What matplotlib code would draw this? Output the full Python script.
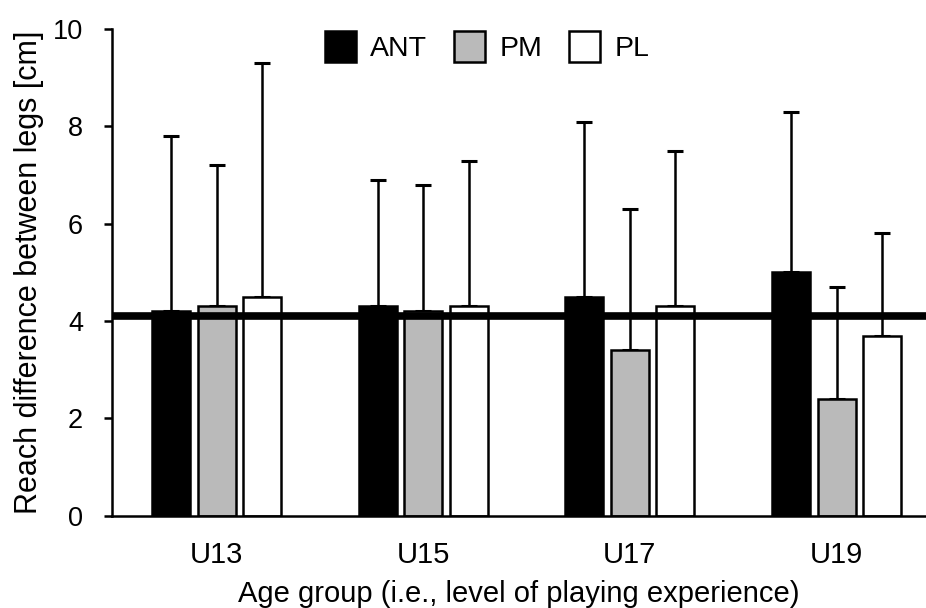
import numpy as np
import matplotlib.pyplot as plt

# age groups and mean reach differences (cm) with SD
groups = ['U13', 'U15', 'U17', 'U19']
series = ['ANT', 'PM', 'PL']
ant_mean = [4.2, 4.3, 4.5, 5.0]
ant_sd = [3.6, 2.6, 3.6, 3.3]
pm_mean = [4.3, 4.2, 3.4, 2.4]
pm_sd = [2.9, 2.6, 2.9, 2.3]
pl_mean = [4.5, 4.3, 4.3, 3.7]
pl_sd = [4.8, 3.0, 3.2, 2.1]
ref_line = 4.1  # overall mean line

means = [ant_mean, pm_mean, pl_mean]
sds = [ant_sd, pm_sd, pl_sd]
colors = ['black', '#bababa', 'white']

plt.rcParams['font.family'] = ['Liberation Sans', 'DejaVu Sans']
plt.rcParams['font.size'] = 20

fig = plt.figure(figsize=(9.26, 6.08), dpi=100)
ax = fig.add_axes([0.121, 0.152, 0.879, 0.8])

x = np.arange(len(groups))
step = 0.22
width = 0.184
for i, (name, m, s, c) in enumerate(zip(series, means, sds, colors)):
    pos = x + (i - 1) * step
    ax.bar(pos, m, width, color=c, edgecolor='black', linewidth=1.8, label=name, zorder=2)
    ax.errorbar(pos, m, yerr=[np.zeros(len(m)), s], fmt='none', ecolor='black',
                elinewidth=1.8, capsize=6, capthick=2.2, zorder=1)

ax.axhline(ref_line, color='black', lw=5.5, zorder=3)

ax.set_ylim(0, 10)
ax.set_yticks([0, 2, 4, 6, 8, 10])
ax.set_xlim(-0.506, 3.433)
ax.set_xticks(x)
ax.set_xticklabels(groups, fontsize=21)
ax.tick_params(axis='x', length=0, pad=18)
ax.tick_params(axis='y', length=6, width=1.8, pad=15, labelsize=19.5)

for side in ['top', 'right']:
    ax.spines[side].set_visible(False)
ax.spines['left'].set_linewidth(1.8)
ax.spines['bottom'].set_linewidth(1.8)

ax.set_ylabel('Reach difference between legs [cm]', fontsize=22, labelpad=6)
ax.set_xlabel('Age group (i.e., level of playing experience)', fontsize=21, labelpad=8)

ax.legend(ncol=3, frameon=False, loc='center', bbox_to_anchor=(0.526, 0.923),
          bbox_transform=fig.transFigure, fontsize=20.5,
          handlelength=1.09, handleheight=1.3, handletextpad=0.49, columnspacing=0.96)

plt.savefig('out.png', dpi=100)
